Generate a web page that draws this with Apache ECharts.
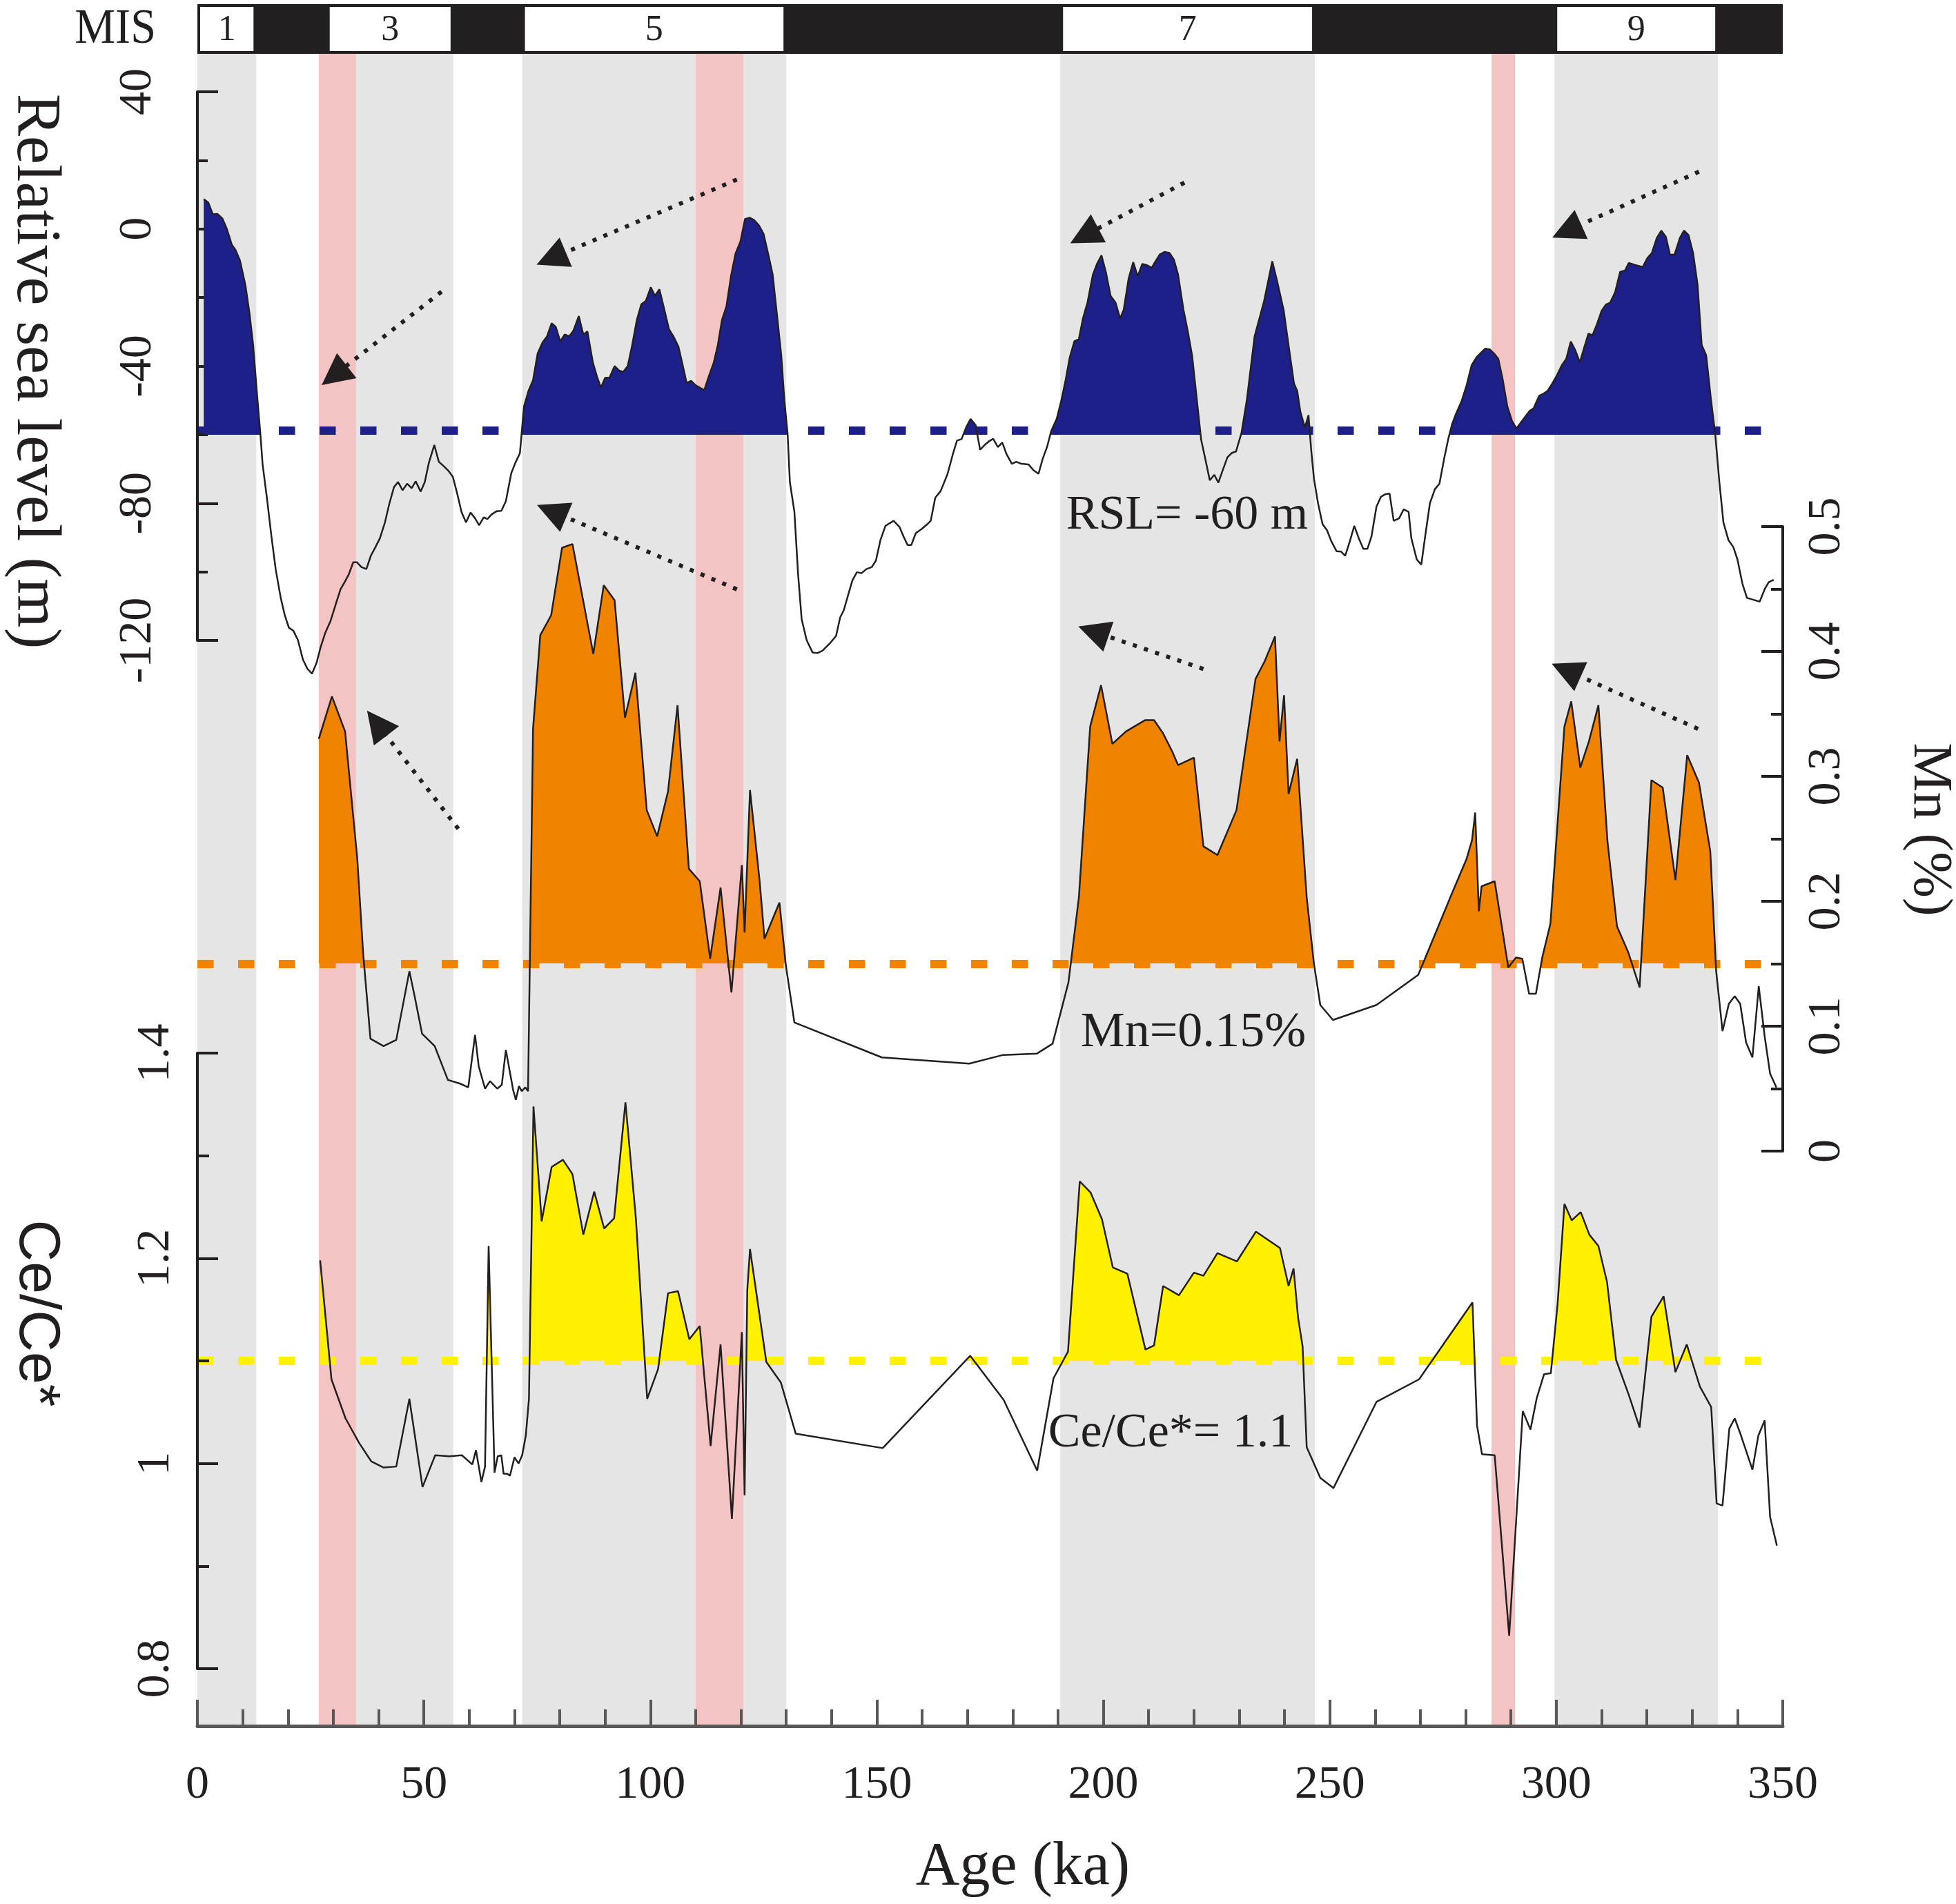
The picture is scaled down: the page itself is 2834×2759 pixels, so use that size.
<!DOCTYPE html>
<html lang="en">
<head>
<meta charset="UTF-8">
<title>Relative sea level, Mn and Ce/Ce* against age</title>
<script src="https://cdn.jsdelivr.net/npm/echarts@6.0.0/dist/echarts.min.js"></script>
<style>
    html, body { margin: 0; padding: 0; background: #ffffff; }
    #main { width: 2834px; height: 2759px; }
</style>
</head>
<body>
<div id="main"></div>
<script>
    // ---- values: [age (ka), value] ----
    var seaLevel = [
        [1.4,8.7],[2.4,7.7],[3.4,4.3],[4.4,4.4],[5.5,3.1],[6.5,0],[7.6,-4.6],[8.4,-6.1],[9.4,-9.2],[10.6,-16.4],
        [11.5,-24.6],[12.3,-33.8],[13.1,-47.1],[13.9,-59.7],[14.4,-68.7],[15.4,-79],[16.3,-89.2],[17.3,-99.4],[18.4,-107.6],[19.3,-112.7],
        [20.2,-116.3],[21.2,-117.2],[22.2,-119.9],[23.3,-125.6],[24.3,-128.3],[25.3,-129.7],[26.3,-126.6],[27.2,-122],[28.2,-117.9],[29.4,-114.3],
        [30.6,-109.2],[31.6,-105.1],[32.5,-103],[33.4,-100.8],[34.4,-97.2],[35.2,-97.2],[36.2,-98.6],[37.3,-99.2],[38.3,-95.3],[39.3,-92.8],
        [40.3,-90.2],[41.4,-85.6],[42.4,-80],[43.4,-75.3],[44.3,-73.8],[45.3,-76.2],[46.3,-74.3],[47.3,-75.6],[48.2,-73.6],[49.3,-76.6],
        [50.2,-73.8],[51.1,-68.2],[52.3,-63],[53.3,-67.9],[54.4,-69.2],[55.4,-70.5],[56.4,-72.3],[57.4,-77.4],[58.3,-82.5],[59.3,-85.6],
        [60.3,-82.7],[61.3,-84.4],[62.2,-86.4],[63.2,-84.1],[64.0,-84.6],[65.0,-83.2],[66.1,-82.3],[67.1,-82.2],[68.1,-79.4],[69.3,-71.2],
        [70.2,-68.2],[71.2,-65.4],[72.1,-51.8],[73.1,-47.2],[74.1,-44.1],[75.1,-36.4],[76.2,-33.1],[77.2,-31.3],[78.2,-27.5],[79.1,-28.5],
        [80.1,-32.8],[81.1,-30.8],[82.1,-31.3],[83.0,-29.7],[84.2,-25.4],[85.2,-30.8],[86.1,-29.9],[87.3,-38.9],[88.2,-43],[89.1,-46.3],
        [90.0,-43.4],[91.0,-43.3],[92.1,-40],[93.1,-41.3],[94.0,-41.7],[95.0,-40],[96.0,-33.8],[97.0,-26.6],[98.0,-22],[99.0,-21],
        [100.1,-17],[101.0,-19.5],[102.0,-17.6],[103.1,-23.6],[104.1,-29.2],[105.2,-31.6],[106.2,-34.3],[107.1,-39.5],[108.0,-44.9],[109.0,-44.3],
        [110.0,-45.6],[111.9,-47],[112.9,-43],[114.0,-39],[114.9,-33.8],[115.8,-26.6],[116.8,-22.5],[117.8,-13.8],[118.8,-7.2],[119.9,-3.6],
        [120.9,2.9],[121.9,3.3],[122.9,2.6],[124.0,1.0],[125.0,-1.5],[126.0,-7.2],[127.0,-13.3],[128.0,-25.6],[128.9,-36.9],[129.6,-50.2],
        [130.3,-59.7],[130.8,-73.8],[131.8,-82.5],[132.6,-100.4],[133.4,-113.8],[134.5,-119.9],[135.8,-123.5],[136.9,-123.7],[138.0,-123],[139.6,-120.9],
        [141.0,-118.7],[141.9,-113.3],[142.7,-111.2],[143.7,-106.6],[144.6,-102.5],[145.6,-100.1],[146.6,-100.4],[147.7,-99.2],[148.9,-98.6],[149.8,-96.7],
        [150.8,-90.7],[151.9,-86.6],[153.7,-85.1],[155.0,-86.9],[155.9,-89.7],[156.8,-92.2],[157.6,-92.2],[158.6,-88.7],[159.8,-87.6],[160.9,-86.4],
        [161.9,-85.1],[162.9,-78.4],[164.1,-76.4],[165.6,-71.5],[166.8,-65.6],[167.7,-61.7],[168.7,-61.3],[169.7,-57.9],[170.7,-55.4],[171.8,-57.2],
        [172.8,-64.4],[173.8,-63],[174.9,-61.8],[175.7,-61.2],[176.7,-63.6],[177.7,-62.3],[178.6,-65.6],[179.8,-68.5],[180.8,-67.9],[181.9,-68.5],
        [183.5,-68.7],[184.6,-70.4],[185.7,-71.4],[186.6,-67.1],[187.6,-63.5],[188.5,-58.9],[189.7,-55.4],[190.7,-50.2],[191.6,-44.6],[192.6,-37.4],
        [193.6,-32.8],[194.6,-32.1],[195.5,-26.1],[196.5,-21.5],[197.7,-13.3],[198.6,-10.2],[199.6,-7.7],[200.6,-12.8],[201.6,-19.5],[202.7,-21.5],
        [203.7,-26.1],[204.5,-23.6],[205.6,-14.4],[206.6,-9.7],[207.6,-13.8],[208.6,-10.2],[209.5,-10.5],[210.7,-11.3],[211.4,-9.7],[212.5,-7.4],
        [213.5,-6.7],[214.6,-7],[215.6,-9],[216.5,-13.3],[217.7,-23.6],[218.7,-30.2],[219.6,-36.9],[220.6,-49.2],[221.6,-61.5],[222.6,-67.6],
        [223.5,-73.3],[224.5,-71.7],[225.4,-74],[226.4,-70.2],[227.4,-66.6],[228.4,-65.3],[229.3,-64.9],[230.5,-59.5],[231.7,-49.7],[233.4,-31.3],
        [235.5,-21],[237.3,-9.4],[238.4,-15.4],[239.8,-23.6],[241.0,-34.9],[242.1,-45.1],[242.8,-47.2],[243.5,-53.3],[244.5,-57.9],[245.3,-54.3],
        [245.9,-64.6],[246.5,-72.8],[247.4,-80],[248.4,-86.1],[249.4,-87.9],[250.3,-91],[251.5,-94],[252.5,-94.1],[253.4,-95.3],[254.4,-91.2],
        [255.4,-86.6],[256.4,-90.2],[257.4,-93.3],[258.3,-93.3],[259.2,-89.7],[260.3,-81],[261.3,-78.1],[262.2,-77.4],[263.2,-77.2],[264.1,-85.1],
        [265.3,-84.4],[266.3,-81.8],[267.4,-82.5],[268.0,-90.2],[269.2,-96.4],[270.2,-97.9],[271.1,-89.2],[272.1,-80],[273.2,-75.9],[274.2,-74.3],
        [275.3,-66.6],[276.2,-61],[277.0,-56.9],[277.9,-53.8],[279.1,-50.2],[280.2,-45.6],[281.3,-39.8],[282.4,-37.4],[284.3,-34.9],[285.3,-35.1],
        [286.3,-36.4],[287.2,-37.9],[288.2,-44.1],[289.2,-51.8],[290.2,-55.9],[291.2,-58.2],[292.1,-56.6],[293.3,-54.5],[294.1,-53.1],[295.0,-52.3],
        [296.2,-48.7],[297.2,-48],[298.1,-47.2],[299.1,-45.1],[300.1,-42.8],[301.2,-39.8],[302.2,-37.9],[303.2,-32.8],[304.2,-35.4],[305.2,-38.9],
        [306.1,-34.9],[307.1,-30.5],[308.0,-31],[309.0,-27.7],[310.0,-23.9],[311.0,-22],[311.9,-21.5],[313.0,-18.4],[314.1,-12.5],[315.2,-12.1],
        [316.0,-9.9],[317.4,-10.5],[319.1,-11.1],[320.1,-8.5],[321.1,-7],[322.2,-2.6],[323.2,-0.5],[324.2,-2.3],[325.1,-7.5],[326.1,-7.5],
        [327.3,-2.6],[328.2,-0.5],[329.2,-1.8],[330.2,-7],[331.2,-16.4],[332.1,-33.8],[333.1,-36.9],[334.1,-49.2],[335.1,-60],[336.0,-73.8],
        [336.9,-85.6],[338.0,-90.7],[339.1,-92.8],[340.0,-96.4],[341.1,-103.5],[342.1,-107.6],[343.4,-108.1],[344.9,-108.7],[346.0,-105.1],[346.9,-103],
        [348.0,-102.3]
    ];

    var manganese = [
        [26.8,0.330],[29.7,0.364],[32.6,0.336],[35.3,0.234],[36.6,0.158],[38.2,0.090],[41.1,0.084],[43.9,0.089],[46.8,0.144],[47.9,0.125],
        [49.6,0.094],[52.4,0.084],[55.3,0.057],[58.0,0.054],[59.8,0.051],[61.3,0.093],[62.1,0.068],[63.5,0.050],[64.6,0.056],[66.2,0.050],
        [67.2,0.053],[68.1,0.081],[69.7,0.049],[70.3,0.041],[71.0,0.052],[71.6,0.048],[72.4,0.051],[73.0,0.048],[74.1,0.338],[75.7,0.413],
        [78.1,0.429],[80.5,0.483],[82.8,0.486],[87.4,0.398],[89.7,0.453],[92.1,0.441],[94.4,0.347],[96.7,0.383],[99.2,0.273],[101.5,0.252],
        [103.9,0.288],[106.0,0.357],[108.5,0.226],[110.9,0.216],[113.2,0.154],[115.5,0.211],[117.9,0.127],[120.2,0.229],[120.8,0.175],[122.0,0.289],
        [124.1,0.217],[125.2,0.170],[128.5,0.199],[129.9,0.149],[131.8,0.103],[151.1,0.075],[170.4,0.070],[177.9,0.077],[185.3,0.078],[188.8,0.086],
        [192.3,0.135],[194.6,0.203],[197.1,0.340],[199.5,0.373],[202.0,0.326],[205.0,0.336],[209.2,0.345],[211.2,0.345],[213.1,0.335],[215.2,0.320],
        [216.5,0.309],[220.0,0.315],[222.1,0.244],[225.2,0.237],[229.4,0.273],[233.6,0.378],[235.6,0.392],[237.9,0.412],[238.9,0.328],[239.9,0.365],
        [240.9,0.286],[242.8,0.314],[244.9,0.203],[246.5,0.150],[247.9,0.117],[250.7,0.105],[260.3,0.117],[269.5,0.141],[270.9,0.153],[276.7,0.204],
        [280.2,0.234],[281.4,0.249],[282.1,0.271],[282.9,0.192],[283.5,0.212],[286.4,0.216],[289.4,0.147],[291.1,0.155],[292.5,0.154],[294.0,0.126],
        [295.5,0.126],[296.9,0.155],[298.7,0.182],[301.8,0.340],[303.3,0.360],[305.3,0.307],[307.2,0.328],[309.3,0.357],[311.3,0.248],[313.4,0.180],
        [315.9,0.159],[318.4,0.131],[321.0,0.297],[323.5,0.291],[326.3,0.217],[328.9,0.317],[331.5,0.295],[334.0,0.240],[335.3,0.144],[336.7,0.096],
        [338.1,0.118],[339.4,0.124],[340.6,0.118],[341.9,0.087],[343.3,0.075],[344.7,0.132],[346.0,0.092],[347.2,0.062],[348.6,0.051]
    ];

    var cerium = [
        [27.1,1.198],[29.6,1.082],[32.7,1.044],[35.7,1.020],[38.4,1.002],[41.1,0.996],[43.9,0.997],[46.8,1.063],[49.7,0.977],[52.5,1.008],
        [55.6,1.007],[58.4,1.008],[60.7,0.999],[61.5,1.013],[62.7,0.982],[63.5,0.997],[64.3,1.212],[65.6,0.991],[66.3,1.007],[67.1,1.008],
        [67.6,0.990],[68.4,0.990],[69.0,0.988],[70.0,1.006],[70.9,1.000],[71.7,1.008],[72.5,1.027],[73.2,1.063],[74.2,1.348],[76.0,1.236],
        [78.2,1.289],[80.7,1.296],[82.8,1.282],[85.2,1.223],[87.6,1.265],[89.8,1.229],[92.0,1.239],[94.5,1.352],[96.8,1.239],[99.3,1.063],
        [101.7,1.092],[103.9,1.166],[106.1,1.168],[108.6,1.121],[110.9,1.134],[113.3,1.017],[115.5,1.116],[118.0,0.946],[120.2,1.128],[120.8,0.969],
        [121.4,1.169],[122.0,1.209],[125.6,1.099],[128.8,1.079],[132.1,1.029],[151.3,1.015],[170.6,1.105],[178.0,1.062],[185.4,0.993],[189.0,1.083],
        [192.2,1.109],[194.8,1.275],[197.2,1.264],[199.7,1.238],[202.1,1.191],[205.3,1.185],[209.3,1.111],[211.2,1.115],[213.2,1.173],[216.7,1.164],
        [220.0,1.186],[222.1,1.183],[225.2,1.205],[229.5,1.197],[233.7,1.226],[239.0,1.210],[240.9,1.173],[242.0,1.190],[243.0,1.142],[244.0,1.114],
        [244.9,1.016],[247.9,0.986],[250.8,0.976],[260.3,1.060],[269.7,1.082],[281.5,1.157],[282.5,1.037],[283.6,1.009],[286.4,1.008],[289.6,0.832],
        [292.6,1.051],[294.3,1.033],[295.7,1.064],[297.3,1.087],[298.8,1.088],[300.3,1.156],[301.8,1.253],[303.4,1.237],[305.4,1.245],[307.3,1.223],
        [309.3,1.212],[311.2,1.177],[313.2,1.101],[316.0,1.067],[318.4,1.035],[321.0,1.143],[323.7,1.163],[326.3,1.089],[328.8,1.116],[331.7,1.075],
        [334.2,1.055],[335.4,0.961],[336.7,0.959],[338.2,1.034],[339.4,1.044],[340.8,1.027],[343.3,0.994],[344.6,1.027],[346.0,1.042],[347.2,0.948],
        [348.7,0.920]
    ];

    // thresholds shaded in each panel, and the range of each value axis
    var slThreshold = -60, slMin = -120, slMax = 40;
    var mnThreshold = 0.15, mnMin = 0, mnMax = 0.5;
    var ceThreshold = 1.1, ceMin = 0.8, ceMax = 1.4;

    // marine isotope stages (grey) and the pink intervals, in ka
    var misLabels = ['1', '3', '5', '7', '9'];
    var misStart = [0, 28.6, 71.7, 190.5, 299.6];
    var misEnd = [13, 56.5, 130, 246.7, 335.7];
    var pinkStart = [26.8, 110, 285.7];
    var pinkEnd = [35, 120.5, 290.9];

    // dotted arrows: [from age, from value, to age, to value]
    var slArrows = [
        [53.9, -18.3, 30.2, -42.7],
        [119.1, 14.4, 78.1, -8.6],
        [119.1, -105.1, 78.2, -82.3],
        [217.9, 13.5, 195.8, -2.0],
        [331.5, 16.7, 302.3, -0.6]
    ];
    var mnArrows = [
        [57.6, 0.258, 39.6, 0.3425],
        [222.1, 0.386, 197.8, 0.416],
        [331.3, 0.338, 302.2, 0.385]
    ];

    var ink = '#231f20';
    var navy = '#1d2088';
    var orange = '#f08300';
    var yellow = '#fff100';
    var serif = '"Liberation Serif", "DejaVu Serif", serif';
    var sans = '"Liberation Sans", Arial, sans-serif';
    var PL = 286, PR = 251;
    var slGrid = { top: 133, height: 795 };
    var mnGrid = { top: 763, height: 905 };
    var ceGrid = { top: 1526, height: 892 };
    var dashWidth = 12;

    function ranges(a, b) {
        return a.map(function (v, i) { return [v, b[i]]; });
    }

    function bandRect(params, api) {
        var p0 = api.coord([api.value(0), 1]);
        var p1 = api.coord([api.value(1), 0]);
        return {
            type: 'rect',
            shape: { x: p0[0], y: p0[1], width: p1[0] - p0[0], height: p1[1] - p0[1] },
            style: { fill: api.visual('color') }
        };
    }

    function misBox(params, api) {
        var p0 = api.coord([api.value(0), 1]);
        var p1 = api.coord([api.value(1), 0]);
        return {
            type: 'group',
            children: [{
                type: 'rect',
                shape: { x: p0[0] + 4, y: p0[1] + 4, width: p1[0] - p0[0] - 8, height: p1[1] - p0[1] - 8 },
                style: { fill: '#ffffff' }
            }, {
                type: 'text',
                x: (p0[0] + p1[0]) / 2,
                y: (p0[1] + p1[1]) / 2 + 2,
                style: { text: misLabels[params.dataIndex], fill: ink, font: '52px ' + serif, align: 'center', verticalAlign: 'middle' }
            }]
        };
    }

    // fill only the part of a curve that lies above its threshold
    function aboveFill(index, thr, top, color) {
        return {
            type: 'piecewise', show: false, seriesIndex: index, dimension: 1,
            pieces: [{ lte: thr, color: 'rgba(255,255,255,0)' }, { gt: thr, lte: top, color: color }]
        };
    }

    // dashed threshold line, sitting just on top of the threshold and under the fill
    function threshold(color, value, min, max, grid) {
        var lift = (dashWidth / 2) * (max - min) / grid.height;
        return {
            silent: true,
            z: 1,
            symbol: 'none',
            label: { show: false },
            emphasis: { disabled: true },
            lineStyle: { color: color, width: dashWidth, type: [23.5, 35.5], cap: 'butt' },
            data: [{ yAxis: value + lift }]
        };
    }

    function arrows(list) {
        return {
            silent: true,
            symbol: ['none', 'triangle'],
            symbolSize: 46,
            label: { show: false },
            emphasis: { disabled: true },
            lineStyle: { color: ink, width: 6, type: [6, 11], cap: 'butt' },
            data: list.map(function (a) {
                return [{ coord: [a[0], a[1]] }, { coord: [a[2], a[3]] }];
            })
        };
    }

    function valueAxis(grid, opts, tick, minor, margin) {
        var base = {
            type: 'value', gridIndex: grid, z: 1,
            splitLine: { show: false },
            axisLine: { show: true, onZero: false, lineStyle: { color: ink, width: 4 } },
            axisTick: { show: true, inside: true, length: tick, lineStyle: { color: ink, width: 4 } },
            minorTick: { show: true, splitNumber: 2, length: minor, lineStyle: { color: ink, width: 4 } },
            axisLabel: { rotate: 90, margin: margin, fontSize: 68, fontFamily: serif, color: ink }
        };
        return Object.assign(base, opts);
    }

    var hidden = function (grid, min, max) {
        return { type: 'value', gridIndex: grid, min: min, max: max, show: false };
    };

    function note(text, x, y, size, extra) {
        return Object.assign({
            type: 'text', x: x, y: y, z: 100, silent: true,
            style: { text: text, font: size + 'px ' + serif, fill: ink, align: 'center', verticalAlign: 'middle' }
        }, extra || {});
    }

    var chart = echarts.init(document.getElementById('main'));

    var option = {
        animation: false,
        backgroundColor: '#ffffff',
        textStyle: { fontFamily: serif },
        grid: [
            { left: PL, right: PR, top: 78, bottom: 258 },
            { left: PL, right: PR, top: 6, height: 72, show: true, backgroundColor: ink, borderWidth: 0 },
            { left: PL, right: PR, top: slGrid.top, height: slGrid.height },
            { left: PL, right: PR, top: mnGrid.top, height: mnGrid.height },
            { left: PL, right: PR, top: ceGrid.top, height: ceGrid.height }
        ],
        xAxis: [
            {
                type: 'value', gridIndex: 0, min: 0, max: 350, interval: 50, z: 1,
                splitLine: { show: false },
                axisLine: { onZero: false, lineStyle: { color: '#595757', width: 5 } },
                axisTick: { inside: true, length: 38, lineStyle: { color: '#595757', width: 4 } },
                minorTick: { show: true, splitNumber: 5, length: 24, lineStyle: { color: '#595757', width: 4 } },
                axisLabel: { margin: 52, fontSize: 68, fontFamily: serif, color: ink }
            },
            hidden(1, 0, 350),
            hidden(2, 0, 350),
            hidden(3, 0, 350),
            hidden(4, 0, 350)
        ],
        yAxis: [
            hidden(0, 0, 1),
            hidden(1, 0, 1),
            valueAxis(2, { min: slMin, max: slMax, interval: 40 }, 30, 15, 52),
            valueAxis(3, { position: 'right', min: mnMin, max: mnMax, interval: 0.1 }, 31, 17, 30),
            valueAxis(4, { min: ceMin, max: ceMax, interval: 0.2 }, 30, 17, 26)
        ],
        visualMap: [
            aboveFill(3, slThreshold, slMax, navy),
            aboveFill(5, mnThreshold, mnMax, orange),
            aboveFill(7, ceThreshold, ceMax, yellow)
        ],
        series: [
            { type: 'custom', name: 'MIS bands', xAxisIndex: 0, yAxisIndex: 0, z: 0, silent: true,
              itemStyle: { color: '#e5e5e5' }, encode: { x: [0, 1] },
              renderItem: bandRect, data: ranges(misStart, misEnd) },
            { type: 'custom', name: 'events', xAxisIndex: 0, yAxisIndex: 0, z: 0, silent: true,
              itemStyle: { color: '#f4c3c3' }, encode: { x: [0, 1] },
              renderItem: bandRect, data: ranges(pinkStart, pinkEnd) },
            { type: 'custom', name: 'MIS', xAxisIndex: 1, yAxisIndex: 1, silent: true,
              encode: { x: [0, 1] }, renderItem: misBox, data: ranges(misStart, misEnd) },

            { type: 'line', name: 'RSL fill', xAxisIndex: 2, yAxisIndex: 2, data: seaLevel, z: 2,
              symbol: 'none', silent: true, lineStyle: { opacity: 0 }, areaStyle: { opacity: 1, origin: 'start' },
              markLine: threshold(navy, slThreshold, slMin, slMax, slGrid) },
            { type: 'line', name: 'RSL', xAxisIndex: 2, yAxisIndex: 2, data: seaLevel, z: 3, clip: false,
              symbol: 'none', silent: true, lineStyle: { color: ink, width: 2.5 },
              markLine: arrows(slArrows) },

            { type: 'line', name: 'Mn fill', xAxisIndex: 3, yAxisIndex: 3, data: manganese, z: 2,
              symbol: 'none', silent: true, lineStyle: { opacity: 0 }, areaStyle: { opacity: 1, origin: 'start' },
              markLine: threshold(orange, mnThreshold, mnMin, mnMax, mnGrid) },
            { type: 'line', name: 'Mn', xAxisIndex: 3, yAxisIndex: 3, data: manganese, z: 3,
              symbol: 'none', silent: true, lineStyle: { color: ink, width: 2.5 },
              markLine: arrows(mnArrows) },

            { type: 'line', name: 'Ce fill', xAxisIndex: 4, yAxisIndex: 4, data: cerium, z: 2,
              symbol: 'none', silent: true, lineStyle: { opacity: 0 }, areaStyle: { opacity: 1, origin: 'start' },
              markLine: threshold(yellow, ceThreshold, ceMin, ceMax, ceGrid) },
            { type: 'line', name: 'Ce/Ce*', xAxisIndex: 4, yAxisIndex: 4, data: cerium, z: 3,
              symbol: 'none', silent: true, lineStyle: { color: ink, width: 2.5 } }
        ],
        graphic: [
            note('MIS', 226, 43, 72, { scaleX: 0.92, style: { text: 'MIS', font: '72px ' + serif, fill: ink, align: 'right', verticalAlign: 'middle' } }),
            note('Relative sea level (m)', 50, 538, 92, { rotation: -Math.PI / 2 }),
            note('Mn (%)', 2795, 1202, 80, { rotation: -Math.PI / 2 }),
            note('Ce/Ce*', 52, 1903, 84, { rotation: -Math.PI / 2,
                style: { text: 'Ce/Ce*', font: '84px ' + sans, fill: ink, align: 'center', verticalAlign: 'middle' } }),
            note('Age (ka)', 1482, 2707, 88),
            note('RSL= -60 m', 1720, 748, 70),
            note('Mn=0.15%', 1729, 1497, 72),
            note('Ce/Ce*= 1.1', 1696, 2078, 70)
        ]
    };

    chart.setOption(option);
</script>
</body>
</html>
